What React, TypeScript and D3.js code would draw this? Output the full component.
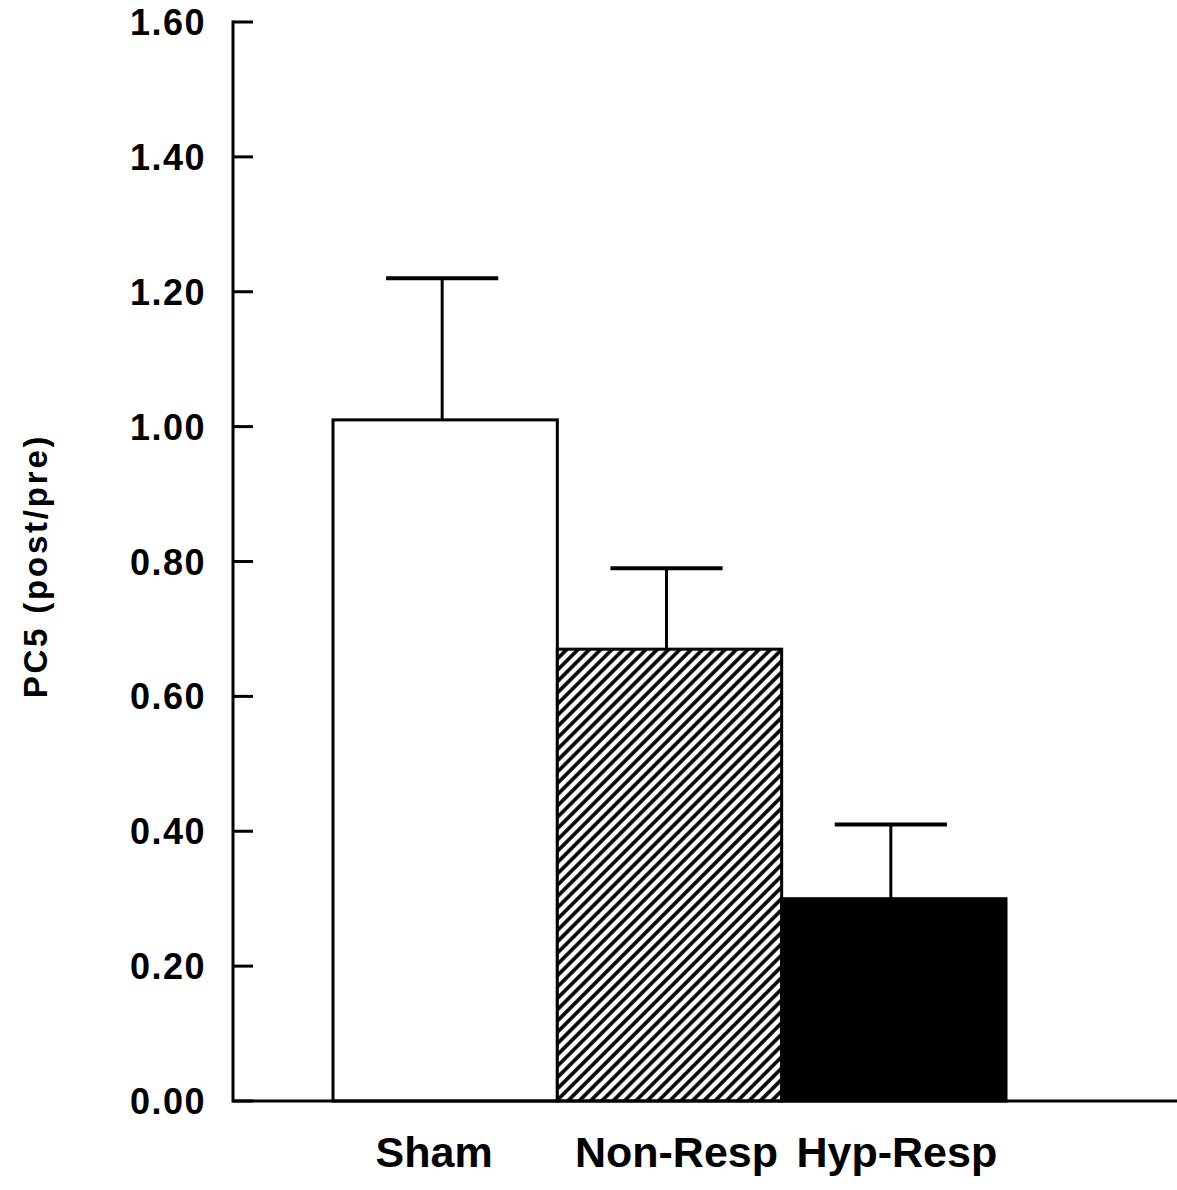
import React from "react";
import * as d3 from "d3";

const categories = ["Sham", "Non-Resp", "Hyp-Resp"];
const means = [1.01, 0.67, 0.3];
const errTops = [1.22, 0.79, 0.41];
const yTicks = [0, 0.2, 0.4, 0.6, 0.8, 1.0, 1.2, 1.4, 1.6];
const fills = ["white", "url(#hatch)", "black"];

const W = 1177;
const H = 1190;
const FONT = "'Liberation Sans', Arial, Helvetica, sans-serif";

export default function App() {
  const axisX = 233;
  const y = d3.scaleLinear().domain([0, 1.6]).range([1101, 22]);
  const x = d3.scaleBand<string>().domain(categories).range([333, 1006]).padding(0);
  const bw = x.bandwidth();
  const capHalf = bw * 0.25;

  return (
    <svg width={W} height={H} style={{ position: "absolute", left: 0, top: 0, background: "white" }}>
      <defs>
        <pattern id="hatch" width={8} height={8} patternUnits="userSpaceOnUse" patternTransform="rotate(45)">
          <rect width={8} height={8} fill="white" />
          <line x1={4} y1={-1} x2={4} y2={9} stroke="black" strokeWidth={3.6} />
        </pattern>
      </defs>
      <rect width={W} height={H} fill="white" />
      {categories.map((c, i) => (
        <rect
          key={c}
          x={x(c)!}
          y={y(means[i])}
          width={bw}
          height={y(0) - y(means[i])}
          fill={fills[i]}
          stroke="black"
          strokeWidth={3}
        />
      ))}
      {categories.map((c, i) => {
        const cx = x(c)! + bw / 2 - 3;
        return (
          <g key={c + "e"} stroke="black" strokeWidth={3}>
            <line x1={cx} x2={cx} y1={y(means[i])} y2={y(errTops[i])} />
            <line x1={cx - capHalf} x2={cx + capHalf} y1={y(errTops[i])} y2={y(errTops[i])} strokeWidth={4} />
          </g>
        );
      })}
      <line x1={axisX} x2={axisX} y1={y(1.6) - 1.5} y2={y(0) + 1.5} stroke="black" strokeWidth={3} />
      <line x1={axisX} x2={W} y1={y(0)} y2={y(0)} stroke="black" strokeWidth={3} />
      {yTicks.map((t) => (
        <g key={t}>
          <line x1={axisX} x2={axisX + 20} y1={y(t)} y2={y(t)} stroke="black" strokeWidth={3} />
          <text
            x={206}
            y={y(t) + 13}
            textAnchor="end"
            fontFamily={FONT}
            fontWeight="bold"
            fontSize={36}
            letterSpacing={1.5}
          >
            {t.toFixed(2)}
          </text>
        </g>
      ))}
      {categories.map((c, i) => (
        <text
          key={c + "l"}
          x={x(c)! + bw / 2 + (i === 0 ? -11 : i === 1 ? 7 : 3)}
          y={1167}
          textAnchor="middle"
          fontFamily={FONT}
          fontWeight="bold"
          fontSize={43}
        >
          {c}
        </text>
      ))}
      <text
        transform={`translate(47,566) rotate(-90)`}
        textAnchor="middle"
        fontFamily={FONT}
        fontWeight="bold"
        fontSize={33}
        letterSpacing={2.8}
      >
        PC5 (post/pre)
      </text>
    </svg>
  );
}
